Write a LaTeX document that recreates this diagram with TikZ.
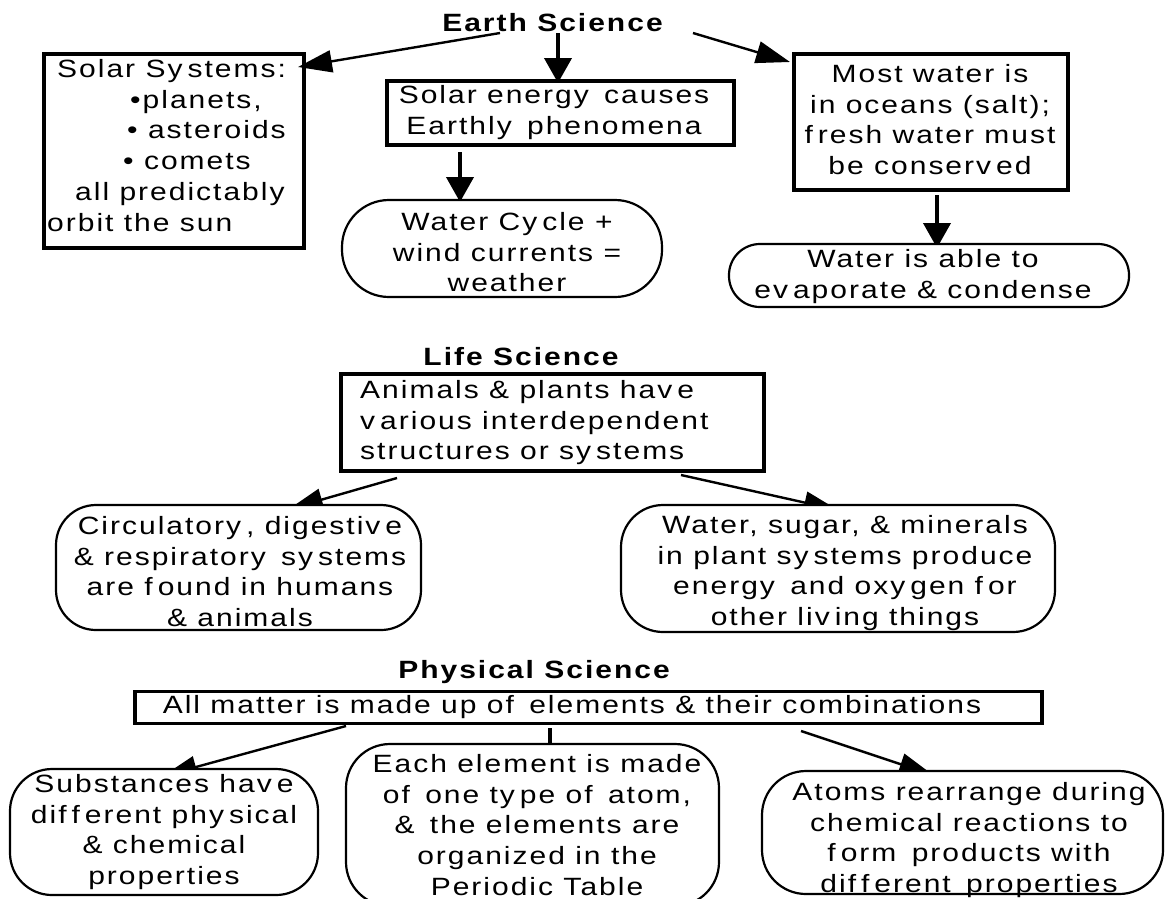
\documentclass[tikz,border=0pt]{standalone}
\usepackage{fontspec}
\setmainfont{Liberation Sans}[FakeStretch=1.2,LetterSpace=8]
\usetikzlibrary{arrows.meta,calc}
\pgfdeclarelayer{back}
\pgfdeclarelayer{links}
\pgfsetlayers{back,links,main}
% body text size and the small gap the typeface leaves after some letters
\newcommand{\bodyfont}{\fontsize{25}{30.8}\selectfont}
\newcommand{\gp}{\kern0.2em}
\newcommand{\fl}{\rule{0pt}{19pt}}
\tikzset{
  rect/.style={draw, line width=3.8pt, rectangle, inner sep=0pt},
  pill/.style={draw, fill=white, line width=2.2pt, rectangle, inner sep=0pt},
  txt/.style={inner sep=0pt, align=center, font=\bodyfont, anchor=north},
  ltxt/.style={inner sep=0pt, align=left, font=\bodyfont, anchor=north west},
  title/.style={inner sep=0pt, font=\bodyfont\bfseries, anchor=base},
  varrow/.style={line width=4pt, -{Triangle[length=25pt,width=27pt]}},
  darrow/.style={line width=2.4pt, -{Triangle[length=34pt,width=22pt]}},
  stub/.style={line width=4pt}
}
\begin{document}
\begin{tikzpicture}[x=1pt,y=-1pt]
\useasboundingbox (0,0) rectangle (1167,898);
\begin{pgfonlayer}{back}
  \fill[white] (0,0) rectangle (1167,898);
\end{pgfonlayer}
\clip (0,0) rectangle (1167,898);

% ---------- Earth Science ----------
\node[title] (es) at (552.5,31.5) {Earth Science};
\node[rect, minimum width=260pt, minimum height=194pt] (ss) at (174,151) {};
\node[ltxt] (sst) at (47,58) {\hspace*{10pt}\fl Solar Sy\gp stems:\\
  \hspace*{83pt}•planets,\\
  \hspace*{80pt}• asteroids\\
  \hspace*{76pt}• comets\\
  \hspace*{28pt}all predictably\\
  orbit the sun};
\node[rect, minimum width=347pt, minimum height=64pt] (se) at (560.5,113) {};
\node[txt] (set) at (554,84) {\fl Solar energy\gp{} causes\\ Earthly\gp{} phenomena};
\node[pill, rounded corners=47pt, minimum width=320pt, minimum height=97pt] (wc) at (502,248.5) {};
\node[txt] (wct) at (507,211) {\fl Water Cy\gp cle +\\ wind currents =\\ weather};
\node[rect, minimum width=274pt, minimum height=136pt] (mw) at (931,122) {};
\node[txt] (mwt) at (930,63) {\fl Most water is\\ in oceans (salt);\\ f\gp resh water must\\ be conserv\gp ed};
\node[pill, rounded corners=31pt, minimum width=400pt, minimum height=63pt] (we) at (929,275.5) {};
\node[txt] (wet) at (923,248) {\fl Water is able to\\ ev\gp aporate \& condense};

% ---------- Life Science ----------
\node[title] (lst) at (521,365) {Life Science};
\node[rect, minimum width=423pt, minimum height=97pt] (lb) at (552.5,422.5) {};
\node[ltxt] (lbt) at (360,379) {\fl Animals \& plants hav\gp e\\ v\gp arious interdependent\\ structures or sy\gp stems};
\node[pill, rounded corners=40pt, minimum width=365pt, minimum height=125pt] (ci) at (238.5,567.5) {};
\node[txt] (cit) at (240,515) {\fl Circulatory\gp , digestiv\gp e\\ \& respiratory\gp{} sy\gp stems\\ are f\gp ound in humans\\ \& animals};
\node[pill, rounded corners=42pt, minimum width=434pt, minimum height=127pt] (ws) at (838,568.5) {};
\node[txt] (wst) at (845,514) {\fl Water, sugar, \& minerals\\ in plant sy\gp stems produce\\ energy\gp{} and oxy\gp gen f\gp or\\ other liv\gp ing things};

% ---------- Physical Science ----------
\node[title] (pst) at (534,678) {Physical Science};
\node[rect, line width=3.4pt, minimum width=907pt, minimum height=32pt] (pb) at (588.5,707.5) {};
\node[inner sep=0pt, font=\bodyfont, anchor=base] (pbt) at (572,713) {All matter is made up of\gp{} elements \& their combinations};
\node[pill, rounded corners=42pt, minimum width=308pt, minimum height=126pt] (su) at (164,832) {};
\node[txt] (sut) at (164,773) {\fl Substances hav\gp e\\ dif\gp f\gp erent phy\gp sical\\ \& chemical\\ properties};
\node[pill, rounded corners=44pt, minimum width=373pt, minimum height=162pt] (ee) at (532.5,825) {};
\node[txt] (eet) at (537,753) {\fl Each element is made\\ of\gp{} one ty\gp pe of\gp{} atom,\\ \&\gp{} the elements are\\ organized in the\\ Periodic Table};
\node[pill, rounded corners=44pt, minimum width=401pt, minimum height=123pt] (at) at (962.5,832.5) {};
\node[txt] (att) at (969,781) {\fl Atoms rearrange during\\ chemical reactions to\\ f\gp orm\gp{} products with\\ dif\gp f\gp erent\gp{} properties};

% ---------- connectors (beneath the shapes) ----------
\begin{pgfonlayer}{links}
  \draw[darrow] ($(es.base)+(-52.5,1.5)$) -- ($(ss)+(124,-84)$);
  \draw[varrow] ($(es.base)+(5.5,1.5)$) -- ($(se)+(-2.5,-30)$);
  \draw[darrow] ($(es.base)+(140.5,1.5)$) -- ($(mw)+(-141,-60)$);
  \draw[varrow] ($(se)+(-100.5,39)$) -- ($(wc)+(-42,-46.5)$);
  \draw[varrow] ($(mw)+(6,73)$) -- ($(we)+(8,-27.5)$);
  \draw[darrow] ($(lb)+(-155.5,55.5)$) -- ($(ci)+(50.5,-58.5)$);
  \draw[darrow] ($(lb)+(128.5,52.5)$) -- ($(ws)+(0,-58.5)$);
  \draw[darrow] ($(pb)+(-242.5,18.5)$) -- ($(su)+(-1,-56)$);
  \draw[stub] ($(pb)+(-38.5,20.5)$) -- ($(ee)+(17.5,-80)$);
  \draw[darrow] ($(pb)+(212.5,23.5)$) -- ($(at)+(-29.5,-57.5)$);
\end{pgfonlayer}
\end{tikzpicture}
\end{document}
